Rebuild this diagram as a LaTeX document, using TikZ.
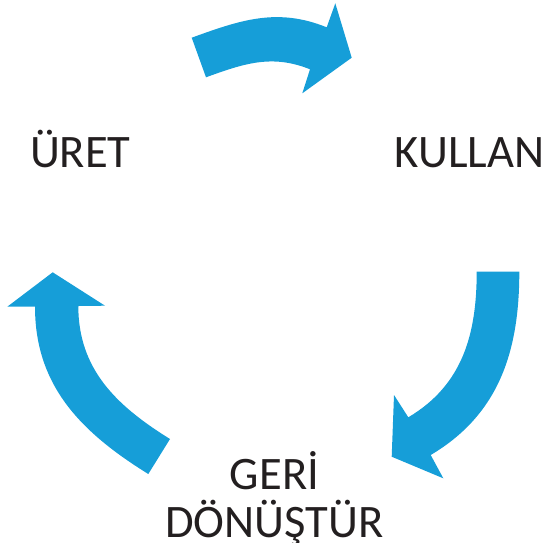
\documentclass[tikz,border=0pt]{standalone}
\usepackage{fontspec}
\setmainfont{Carlito}
\definecolor{cycleblue}{RGB}{22,158,216}
\definecolor{inkgray}{RGB}{35,31,32}

\begin{document}
\begin{tikzpicture}[
     x=0.02cm, y=0.02cm,
     bigarrow/.style={fill=cycleblue, draw=none},
     word/.style={anchor=base, text=inkgray, inner sep=0pt, align=center,
       font=\fontsize{26.5pt}{27.6pt}\selectfont}
   ]
   \path[use as bounding box] (0,0) rectangle (543,542);
   % Labels.
   \node[word] (uret) at (80.3,374.3) {ÜRET};
   \node[word] (kullan) at (469.5,374.7) {KULLAN};
   \node[word] (geri) at (274.5,4.3) {GERİ\\DÖNÜŞTÜR};
   % Arrows.
   \fill[bigarrow] (191.7,504.3) to[out=20,in=158] (326.7,514.7) -- (335.3,538.7)
     -- (351.7,484.3) -- (302.3,448.7) -- (310,472.7) to[out=158,in=20] (206,464.7) -- cycle;
   \fill[bigarrow] (519.3,270.3) to[out=270,in=30.7] (430.7,87) -- (443.3,63.7)
     -- (391.7,85.3) -- (394,147) -- (408.3,124.7) to[out=30.7,in=270] (476.7,270.3) -- cycle;
   \fill[bigarrow] (148.3,68) to[out=148.2,in=270] (35,235.3) -- (7.3,235.3)
     -- (52.7,269.7) -- (105,236.3) -- (78.3,236) to[out=270,in=148.2] (170,103) -- cycle;
\end{tikzpicture}
\end{document}
